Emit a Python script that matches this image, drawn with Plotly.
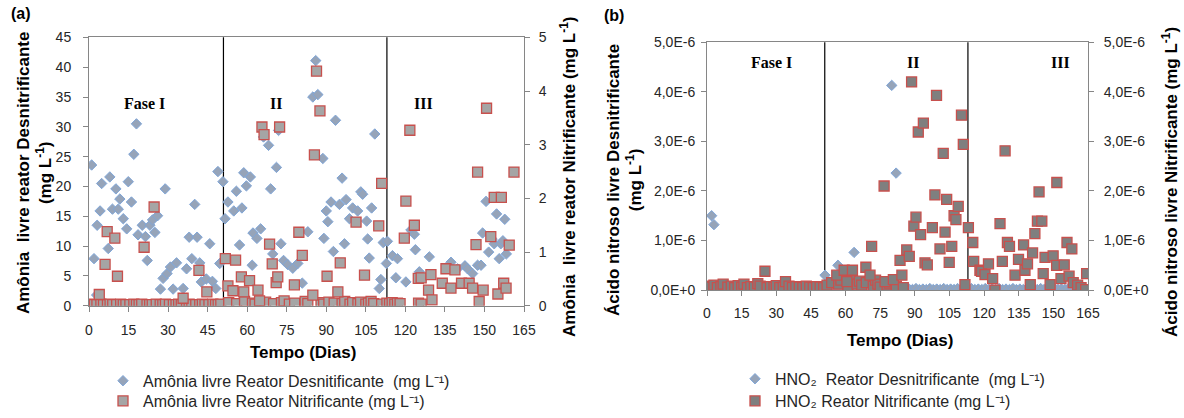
import plotly.graph_objects as go

# ---------------- DATA ----------------
tick_days = [0, 15, 30, 45, 60, 75, 90, 105, 120, 135, 150, 165]
phase_bounds = [51, 113]

# Panel (a) - Amônia livre, reator desnitrificante (left axis, mg/L)
a_des_days = [1.0, 1.9, 2.9, 3.1, 4.2, 4.8, 7.3, 7.9, 8.9, 10.2, 11.1, 11.7, 13.0, 14.3, 14.9, 16.1,
              17.0, 18.0, 18.6, 20.2, 21.4, 22.1, 23.1, 24.1, 25.0, 26.0, 27.1, 28.1, 28.9, 29.6,
              30.9, 31.9, 33.2, 35.7, 37.0, 38.0, 39.0, 40.1, 41.0, 42.0, 42.6, 44.5, 45.8, 46.8,
              48.1, 48.9, 49.6, 50.8, 51.6, 52.7, 54.9, 55.9, 57.1, 58.0, 58.7, 59.7, 61.2, 61.9,
              62.2, 63.7, 65.1, 66.2, 68.1, 68.9, 69.7, 71.1, 71.9, 72.8, 73.8, 75.4, 77.3, 79.2,
              80.9, 83.0, 84.9, 86.0, 86.8, 88.7, 89.1, 90.0, 90.6, 91.8, 92.7, 93.5, 95.0, 96.0,
              96.9, 97.5, 98.8, 100.0, 101.9, 103.1, 103.8, 105.3, 105.7, 106.3, 107.2, 108.4,
              110.1, 110.7, 111.6, 112.8, 113.2, 115.1, 116.4, 117.0, 120.2, 122.1, 123.4, 123.8,
              125.3, 129.1, 137.3, 139.8, 142.6, 143.6, 145.5, 147.4, 148.7, 149.3, 150.6, 151.6,
              152.9, 153.7, 154.6, 155.6, 156.2, 157.0, 157.7, 158.3]
a_des_vals = [23.6, 7.9, 1.8, 13.5, 15.9, 20.5, 9.6, 21.6, 16.2, 19.6, 16.2, 17.9, 14.6, 12.9, 20.8, 17.4,
              25.4, 30.5, 11.9, 13.5, 11.6, 7.6, 13.5, 14.4, 12.3, 15.1, 2.8, 4.6, 19.6, 5.4,
              6.5, 2.8, 7.2, 2.9, 6.2, 11.5, 7.9, 17.0, 11.5, 7.2, 4.0, 4.5, 10.4, 4.1,
              2.9, 22.5, 7.1, 20.8, 14.6, 17.4, 15.9, 19.2, 10.2, 16.4, 22.3, 20.1, 21.6, 6.8,
              12.2, 11.3, 12.9, 28.3, 26.9, 19.6, 8.7, 23.2, 29.4, 10.4, 7.6, 6.9, 6.3, 7.1,
              3.8, 12.4, 35.0, 41.1, 35.4, 24.7, 11.3, 15.9, 14.1, 17.4, 9.1, 31.1, 17.0, 21.4,
              10.4, 17.8, 14.6, 16.4, 15.9, 19.1, 18.7, 14.2, 11.2, 8.0, 16.4, 28.8,
              2.9, 4.4, 10.6, 7.1, 10.8, 8.4, 4.7, 7.9, 4.0, 12.7, 12.0, 9.4,
              5.7, 8.2, 7.3, 6.2, 6.7, 6.2, 5.4, 6.8, 6.8, 12.2, 17.5, 9.0,
              11.2, 10.4, 15.4, 7.9, 10.4, 10.9, 14.5, 8.7]

# Panel (a) - Amônia livre, reator nitrificante (right axis, mg/L)
a_nit_days = [0.0, 1.0, 2.0, 3.0, 4.5, 5.5, 7.0, 8.0, 9.0, 10.5, 12.0, 13.0, 14.0, 15.5, 17.0, 18.0,
              19.0, 20.0, 22.0, 23.0, 24.0, 25.5, 27.0, 28.0, 29.0, 30.5, 32.0, 33.0, 34.0, 35.0,
              37.0, 38.0, 39.0, 40.5, 42.0, 43.0, 44.0, 45.5, 47.0, 48.0, 49.0, 50.0,
              53.0, 56.0, 59.0, 62.0, 63.0, 67.0, 70.0, 73.0, 74.0, 76.0, 78.0, 82.0, 83.0, 88.0,
              89.0, 91.0, 93.0, 96.0, 97.0, 99.0, 100.0, 102.0, 103.0, 105.0, 106.0, 107.0, 108.0,
              111.0, 113.0, 114.0, 115.0, 116.0, 117.0, 118.0, 125.0, 126.0,
              3.9, 6.1, 6.9, 9.8, 10.8, 20.9, 24.7, 35.7, 41.7, 44.7, 51.7, 52.7, 54.6, 55.6,
              57.8, 58.7, 60.9, 64.1, 64.7, 65.6, 66.4, 68.5, 69.5, 71.0, 71.6, 72.3, 77.9, 79.6,
              80.9, 84.9, 85.5, 86.3, 87.6, 90.3, 94.4, 95.3, 101.3, 104.5, 109.9, 111.0, 119.6,
              120.2, 121.7, 123.4, 124.9, 126.0, 128.8, 129.7, 130.1, 134.0, 135.4, 137.3, 138.8,
              141.3, 144.2, 145.5, 146.8, 147.4, 148.0, 149.5, 150.8, 152.4, 153.7, 155.1, 156.4,
              157.3, 158.2, 159.4, 161.2]
a_nit_vals = [0.02, 0.03, 0.02, 0.02, 0.03, 0.02, 0.02, 0.03, 0.02, 0.02, 0.03, 0.02, 0.02, 0.02, 0.03, 0.02,
              0.02, 0.03, 0.02, 0.02, 0.02, 0.03, 0.02, 0.02, 0.03, 0.02, 0.02, 0.02, 0.03, 0.02,
              0.02, 0.03, 0.02, 0.02, 0.02, 0.03, 0.02, 0.02, 0.03, 0.02, 0.02, 0.03,
              0.06, 0.04, 0.08, 0.05, 0.03, 0.07, 0.04, 0.06, 0.09, 0.03, 0.05, 0.08, 0.04, 0.06,
              0.03, 0.07, 0.05, 0.04, 0.08, 0.03, 0.06, 0.04, 0.07, 0.03, 0.05, 0.08, 0.04,
              0.03, 0.05, 0.04, 0.06, 0.03, 0.05, 0.04, 0.05, 0.03,
              0.21, 0.77, 1.38, 1.26, 0.55, 1.09, 1.84, 0.14, 0.66, 0.26, 0.88, 0.37, 0.28, 0.85,
              0.54, 0.26, 0.47, 0.29, 0.09, 3.33, 3.19, 1.15, 0.78, 0.43, 0.54, 3.33, 0.39, 1.37,
              0.94, 0.20, 2.81, 4.37, 3.63, 0.55, 0.26, 0.80, 1.56, 0.57, 1.49, 2.28, 1.26,
              1.95, 3.27, 1.50, 0.51, 0.52, 0.29, 0.58, 0.11, 0.42, 0.69, 0.33, 0.67,
              0.42, 0.42, 0.33, 1.14, 2.49, 0.08, 0.29, 3.68, 1.29, 2.02, 0.22, 2.02,
              0.42, 0.33, 1.13, 2.49]

# Panel (b) - HNO2 reator desnitrificante (left axis, mg/L)
b_des_days = [0.0, 1.0, 2.0, 3.0, 4.0, 5.5, 7.0, 8.5, 10.0, 11.5, 13.0, 14.5, 16.0, 17.5, 19.0, 20.5,
              22.0, 23.5, 25.0, 26.5, 28.0, 29.5, 31.0, 32.5, 34.0, 35.5, 37.0, 38.5, 40.0, 41.5,
              43.0, 44.5, 46.0, 47.5, 49.0, 51.1, 53.0, 54.5, 56.7, 58.0, 59.5, 61.0, 62.5, 63.7,
              65.0, 66.5, 68.0, 69.5, 71.0, 72.5, 74.0, 75.5, 77.0, 78.5, 80.0, 81.9, 83.0, 84.5,
              86.0, 87.5, 89.0, 90.5, 92.0, 93.5, 95.0, 96.5, 98.0, 99.5, 101.0, 102.5, 104.0,
              105.5, 107.0, 108.5, 110.0, 111.5, 113.0, 114.5, 116.0, 117.5, 119.0, 120.5, 122.0,
              123.5, 125.0, 126.5, 128.0, 129.5, 131.0, 132.5, 134.0, 135.5, 137.0, 138.5, 140.0,
              141.5, 143.0, 144.5, 146.0, 147.5, 149.0, 150.5, 152.0, 153.5, 155.0, 156.5, 158.0,
              159.5, 161.0, 162.5, 164.0]
b_des_vals = [2e-8, 1e-8, 1.50e-6, 1.32e-6, 2e-8, 1e-8, 2e-8, 1e-8, 2e-8, 1e-8, 2e-8, 1e-8, 2e-8, 1e-8, 2e-8, 1e-8,
              2e-8, 1e-8, 2e-8, 1e-8, 2e-8, 1e-8, 2e-8, 1e-8, 2e-8, 1e-8, 2e-8, 1e-8, 2e-8, 1e-8,
              2e-8, 1e-8, 2e-8, 1e-8, 2e-8, 0.30e-6, 1e-8, 2e-8, 0.50e-6, 1e-8, 3e-8, 1e-8, 2e-8, 0.76e-6,
              1e-8, 2e-8, 1e-8, 3e-8, 1e-8, 2e-8, 1e-8, 3e-8, 1e-8, 2e-8, 4.13e-6, 2.36e-6, 1e-8, 3e-8,
              1e-8, 2e-8, 1e-8, 3e-8, 1e-8, 2e-8, 1e-8, 3e-8, 1e-8, 2e-8, 1e-8, 3e-8, 1e-8,
              2e-8, 1e-8, 3e-8, 1e-8, 2e-8, 1e-8, 3e-8, 1e-8, 2e-8, 1e-8, 3e-8, 1e-8,
              2e-8, 1e-8, 3e-8, 1e-8, 2e-8, 1e-8, 3e-8, 1e-8, 2e-8, 1e-8, 3e-8, 1e-8,
              2e-8, 1e-8, 3e-8, 1e-8, 2e-8, 1e-8, 3e-8, 1e-8, 2e-8, 1e-8, 3e-8, 1e-8,
              2e-8, 1e-8, 3e-8, 1e-8]

# Panel (b) - HNO2 reator nitrificante (right axis, mg/L)
b_nit_days = [0.0, 1.5, 3.0, 4.5, 6.0, 7.0, 9.0, 10.5, 12.0, 13.5, 15.0, 16.0, 17.5, 19.0, 20.5, 22.0,
              23.0, 26.0, 27.5, 29.0, 30.0, 31.5, 33.0, 34.0, 35.5, 37.0, 38.5, 40.0, 41.5, 43.0,
              44.5, 46.0, 47.5, 49.0, 50.5, 52.0, 54.0, 57.0, 58.0, 61.0, 62.0, 65.0, 66.0, 67.0,
              69.0, 72.0, 73.0, 74.0, 75.0, 78.0, 79.0, 82.0, 85.0,
              25.1, 56.2, 59.4, 60.6, 63.0, 68.8, 70.6, 71.3, 76.7, 77.1, 80.7, 83.6, 84.4, 86.5,
              87.6, 88.6, 89.6, 90.5, 91.5, 92.5, 93.7, 94.4, 95.4, 97.6, 98.7, 99.4, 100.9, 102.3,
              103.1, 103.8, 104.9, 106.0, 107.0, 107.8, 108.8, 110.2, 111.0, 111.7, 113.2, 115.1,
              115.5, 118.2, 118.9, 120.4, 121.9, 123.7, 124.7, 126.9, 127.9, 129.1, 130.1, 131.0,
              133.4, 134.9, 137.1, 137.7, 138.8, 140.0, 141.0, 142.0, 143.1, 143.8, 145.0, 145.6,
              146.4, 148.6, 149.9, 151.4, 151.5, 153.3, 154.7, 155.9, 156.8, 158.0, 158.6, 160.5,
              162.0, 164.0, 164.4]
b_nit_vals = [0.08e-6, 0.06e-6, 0.10e-6, 0.05e-6, 0.07e-6, 0.12e-6, 0.06e-6, 0.08e-6, 0.05e-6, 0.09e-6,
              0.06e-6, 0.12e-6, 0.05e-6, 0.07e-6, 0.06e-6, 0.13e-6, 0.08e-6, 0.05e-6, 0.07e-6, 0.06e-6,
              0.09e-6, 0.05e-6, 0.06e-6, 0.17e-6, 0.08e-6, 0.05e-6, 0.07e-6, 0.06e-6, 0.05e-6, 0.08e-6,
              0.06e-6, 0.05e-6, 0.07e-6, 0.06e-6, 0.05e-6, 0.10e-6, 0.15e-6, 0.12e-6, 0.20e-6, 0.08e-6,
              0.22e-6, 0.12e-6, 0.18e-6, 0.10e-6, 0.15e-6, 0.08e-6, 0.20e-6, 0.12e-6, 0.06e-6, 0.10e-6,
              0.14e-6, 0.08e-6, 0.05e-6,
              0.38e-6, 0.30e-6, 0.40e-6, 0.17e-6, 0.40e-6, 0.46e-6, 0.30e-6, 0.88e-6, 2.10e-6, 0.17e-6,
              0.21e-6, 0.60e-6, 0.30e-6, 0.81e-6, 0.68e-6, 4.20e-6, 1.29e-6, 1.47e-6, 3.19e-6, 1.12e-6,
              3.37e-6, 0.55e-6, 0.51e-6, 1.26e-6, 1.92e-6, 3.93e-6, 0.83e-6, 2.76e-6, 1.17e-6, 1.83e-6,
              0.56e-6, 0.88e-6, 1.50e-6, 1.42e-6, 1.69e-6, 3.53e-6, 2.94e-6, 0.11e-6, 1.26e-6, 0.96e-6,
              0.58e-6, 0.40e-6, 0.38e-6, 0.31e-6, 0.53e-6, 0.23e-6, 0.00e-6, 1.34e-6, 0.58e-6, 2.81e-6,
              0.96e-6, 0.88e-6, 0.30e-6, 0.62e-6, 0.91e-6, 0.40e-6, 0.53e-6, 0.11e-6, 0.75e-6, 1.14e-6,
              1.39e-6, 1.98e-6, 1.39e-6, 0.33e-6, 0.66e-6, 0.11e-6, 0.69e-6, 0.50e-6, 2.17e-6, 0.23e-6,
              0.51e-6, 0.96e-6, 0.28e-6, 0.83e-6, 0.15e-6, 0.10e-6, 0.05e-6, 0.01e-6, 0.33e-6]

a_left_ticks = [0, 5, 10, 15, 20, 25, 30, 35, 40, 45]
a_right_ticks = [0, 1, 2, 3, 4, 5]
b_tick_vals = [0, 1e-6, 2e-6, 3e-6, 4e-6, 5e-6]
b_tick_text = ["0,0E+0", "1,0E-6", "2,0E-6", "3,0E-6", "4,0E-6", "5,0E-6"]

phase_labels = ["Fase I", "II", "III"]
a_phase_x = [21.2, 71.1, 126.8]
a_phase_y = 33.9
b_phase_x = [28.1, 89.2, 152.9]
b_phase_y = 4.6e-6

# ---------------- STYLE ----------------
W, H = 1184, 418
FONT = "Liberation Sans, Arial, sans-serif"
SERIF = "Liberation Serif, Times New Roman, serif"
AXC = "#868686"
TXT = "#262626"
DIA_FILL = "#96A4B9"
DIA_LINE = "#7FA6D9"
SQ_LINE = "#C8504D"


def px_x(p):
    return p / W


def px_y(p):
    return 1 - p / H


fig = go.Figure()

# panel (a)
fig.add_trace(go.Scatter(x=a_des_days, y=a_des_vals, mode="markers", xaxis="x", yaxis="y",
                         name="Amônia livre Reator Desnitificante  (mg L⁻¹)",
                         marker=dict(symbol="diamond", size=8, color=DIA_FILL,
                                     line=dict(color=DIA_LINE, width=1)),
                         legend="legend"))
fig.add_trace(go.Scatter(x=a_nit_days, y=a_nit_vals, mode="markers", xaxis="x", yaxis="y2",
                         name="Amônia livre Reator Nitrificante (mg L⁻¹)",
                         marker=dict(symbol="square", size=10, color="#A5A5A5",
                                     line=dict(color=SQ_LINE, width=1.3)),
                         legend="legend2"))
# panel (b)
fig.add_trace(go.Scatter(x=b_des_days, y=b_des_vals, mode="markers", xaxis="x2", yaxis="y3",
                         name="HNO₂  Reator Desnitrificante  (mg L⁻¹)",
                         marker=dict(symbol="diamond", size=8, color=DIA_FILL,
                                     line=dict(color=DIA_LINE, width=1)),
                         legend="legend3"))
fig.add_trace(go.Scatter(x=b_nit_days, y=b_nit_vals, mode="markers", xaxis="x2", yaxis="y4",
                         name="HNO₂ Reator Nitrificante (mg L⁻¹)",
                         marker=dict(symbol="square", size=10, color="#7F7F7F",
                                     line=dict(color=SQ_LINE, width=1.3)),
                         legend="legend4"))

tickfont = dict(family=FONT, size=14, color=TXT)
xa_common = dict(range=[0, 165], tickvals=tick_days, showline=True, linecolor=AXC, linewidth=1,
                 mirror=True, ticks="outside", ticklen=5, tickcolor=AXC, showgrid=False,
                 zeroline=False, tickfont=tickfont, automargin=False)
ya_common = dict(showline=True, linecolor=AXC, linewidth=1, ticks="outside", ticklen=5,
                 tickcolor=AXC, showgrid=False, zeroline=False, tickfont=tickfont, automargin=False)

a_dom_x = [px_x(89), px_x(524)]
a_dom_y = [px_y(311), px_y(38)]
b_dom_x = [px_x(707), px_x(1088)]
b_dom_y = [px_y(295), px_y(43)]


def leg(xp, yp):
    return dict(x=px_x(xp), y=px_y(yp), xanchor="left", yanchor="top",
                font=dict(family=FONT, size=16, color=TXT), itemwidth=30,
                bgcolor="rgba(0,0,0,0)", borderwidth=0)


fig.update_layout(
    width=W, height=H, autosize=False,
    margin=dict(l=0, r=0, t=0, b=0, pad=0),
    paper_bgcolor="white", plot_bgcolor="white",
    xaxis=dict(domain=a_dom_x, anchor="y", ticklabelstandoff=6, **xa_common),
    yaxis=dict(domain=a_dom_y, anchor="x", range=[0, 45], tickvals=a_left_ticks,
               ticklabelstandoff=9, **ya_common),
    yaxis2=dict(overlaying="y", side="right", anchor="x", range=[0, 5], tickvals=a_right_ticks,
                ticklabelstandoff=6, **ya_common),
    xaxis2=dict(domain=b_dom_x, anchor="y3", ticklabelstandoff=5, **xa_common),
    yaxis3=dict(domain=b_dom_y, anchor="x2", range=[0, 5e-6], tickvals=b_tick_vals,
                ticktext=b_tick_text, ticklabelstandoff=3, **ya_common),
    yaxis4=dict(overlaying="y3", side="right", anchor="x2", range=[0, 5e-6], tickvals=b_tick_vals,
                ticktext=b_tick_text, ticklabelstandoff=7, **ya_common),
    showlegend=True,
    legend=leg(103, 370),
    legend2=leg(103, 391),
    legend3=leg(735, 368),
    legend4=leg(735, 391),
)

shapes = []
for xb in phase_bounds:
    shapes.append(dict(type="line", xref="x", yref="y domain", x0=xb, x1=xb, y0=0, y1=1,
                       line=dict(color="#000000", width=1.2), layer="below"))
    shapes.append(dict(type="line", xref="x2", yref="y3 domain", x0=xb, x1=xb, y0=0, y1=1,
                       line=dict(color="#000000", width=1.2), layer="below"))
fig.update_layout(shapes=shapes)

ann = []
for lab, xv in zip(phase_labels, a_phase_x):
    ann.append(dict(x=xv, y=a_phase_y, xref="x", yref="y", text=f"<b>{lab}</b>", showarrow=False,
                    font=dict(family=SERIF, size=16, color="#000")))
for lab, xv in zip(phase_labels, b_phase_x):
    ann.append(dict(x=xv, y=b_phase_y, xref="x2", yref="y3", text=f"<b>{lab}</b>", showarrow=False,
                    font=dict(family=SERIF, size=16, color="#000")))

tfont = dict(family=FONT, size=17, color="#000")
C = dict(xref="paper", yref="paper", xanchor="center", yanchor="middle", showarrow=False)
ann += [
    dict(x=px_x(21), y=px_y(14), text="<b>(a)</b>", font=dict(family=FONT, size=16, color="#000"), **C),
    dict(x=px_x(614), y=px_y(16), text="<b>(b)</b>", font=dict(family=FONT, size=16, color="#000"), **C),
    dict(x=px_x(34), y=px_y(176), textangle=-90,
         text="<b>Amônia  livre reator Desnitrificante<br>(mg L<sup>-1</sup>)</b>", font=tfont, **C),
    dict(x=px_x(568), y=px_y(180), textangle=-90,
         text="<b>Amônia  livre reator Nitrificante (mg L<sup>-1</sup>)</b>", font=tfont, **C),
    dict(x=px_x(625), y=px_y(183), textangle=-90,
         text="<b>Ácido nitroso livre Desnitrificante<br>(mg L<sup>-1</sup>)</b>", font=tfont, **C),
    dict(x=px_x(1170), y=px_y(185), textangle=-90,
         text="<b>Ácido nitroso livre Nitrificante (mg L<sup>-1</sup>)</b>", font=tfont, **C),
    dict(x=px_x(303), y=px_y(358), text="<b>Tempo (Dias)</b>",
         font=dict(family=FONT, size=17, color="#000"), **C),
    dict(x=px_x(900), y=px_y(346), text="<b>Tempo (Dias)</b>",
         font=dict(family=FONT, size=17, color="#000"), **C),
]
fig.update_layout(annotations=ann)

fig.write_html("out.html")
